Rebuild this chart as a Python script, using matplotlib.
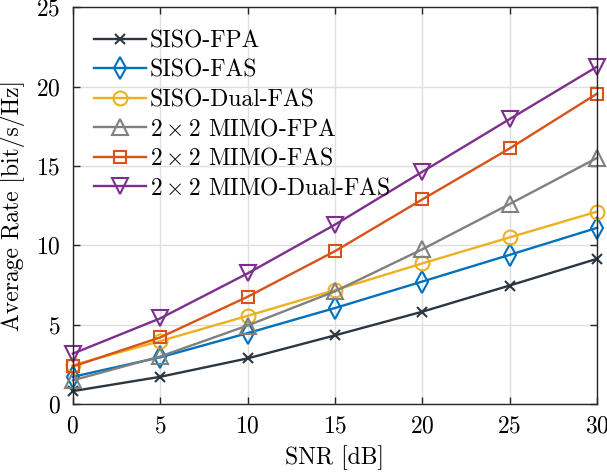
import numpy as np
import matplotlib.pyplot as plt

plt.rcParams["font.family"] = "serif"
plt.rcParams["font.serif"] = ["cmr10"]
plt.rcParams["mathtext.fontset"] = "cm"
plt.rcParams["axes.formatter.use_mathtext"] = True

snr = [0, 5, 10, 15, 20, 25, 30]

siso_fpa = [0.82, 1.72, 2.88, 4.33, 5.82, 7.47, 9.15]
siso_fas = [1.72, 2.95, 4.47, 6.05, 7.72, 9.4, 11.1]
siso_dual = [2.45, 3.97, 5.56, 7.18, 8.86, 10.5, 12.12]
mimo_fpa = [1.5, 3.0, 4.95, 7.1, 9.75, 12.6, 15.5]
mimo_fas = [2.37, 4.2, 6.76, 9.63, 12.89, 16.1, 19.55]
mimo_dual = [3.18, 5.4, 8.23, 11.3, 14.63, 17.95, 21.25]

labels = [
    "SISO-FPA",
    "SISO-FAS",
    "SISO-Dual-FAS",
    r"$2\times2$ MIMO-FPA",
    r"$2\times2$ MIMO-FAS",
    r"$2\times2$ MIMO-Dual-FAS",
]

series = [siso_fpa, siso_fas, siso_dual, mimo_fpa, mimo_fas, mimo_dual]
colors = ["#2b3640", "#0072bd", "#edb120", "#808080", "#d95319", "#7e2f8e"]
markers = ["x", "d", "o", "^", "s", "v"]
msizes = [7, 11, 10, 11, 8, 11]

fig = plt.figure(figsize=(6.07, 4.76), dpi=100)
ax = fig.add_axes([0.120, 0.151, 0.8635, 0.834])

for y, lab, c, m, ms in zip(series, labels, colors, markers, msizes):
    ax.plot(snr, y, color=c, marker=m, markersize=ms, markerfacecolor="none",
            markeredgewidth=1.5, linewidth=1.7, label=lab, clip_on=False)

ax.set_xlim(0, 30)
ax.set_ylim(0, 25)
ax.set_xticks(snr)
ax.set_yticks([0, 5, 10, 15, 20, 25])
ax.grid(True, color="#dfdfdf", linewidth=1.0)
ax.set_axisbelow(True)
ax.tick_params(direction="in", top=True, right=True, labelsize=17,
               length=5, width=1.0, color="#262626")
ax.tick_params(axis="x", pad=8)
ax.tick_params(axis="y", pad=9)
for s in ax.spines.values():
    s.set_color("#262626")
    s.set_linewidth(1.0)

ax.set_xlabel("SNR [dB]", fontsize=17, labelpad=6)
ax.set_ylabel("Average Rate [bit/s/Hz]", fontsize=17, labelpad=8)

ax.legend(loc="upper left", frameon=False, fontsize=17, handlelength=2.2,
          labelspacing=0.31, borderaxespad=0.4, handletextpad=0.15,
          bbox_to_anchor=(0.005, 0.99))

fig.savefig("out.png", dpi=100)
